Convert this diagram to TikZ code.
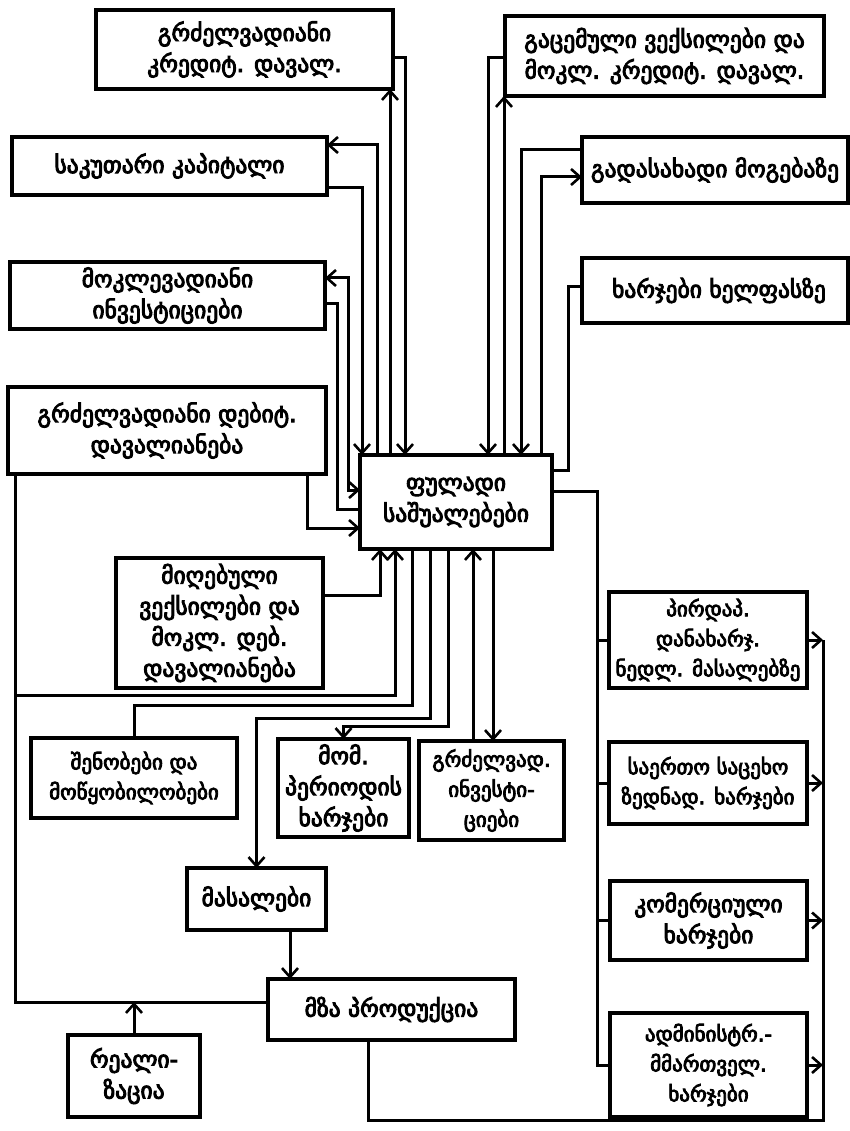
\documentclass[tikz,border=0pt]{standalone}
\usepackage{fontspec}
\setmainfont{DejaVu Sans}
\newfontfamily\geo[FakeBold=4]{DejaVu Sans}
\usetikzlibrary{arrows.meta}
\newcommand{\bx}[7][]{\node[box, minimum width={#5pt-#3pt}, minimum height={#6pt-#4pt}, #1] (#2) at ({(#3+#5)/2},{(#4+#6)/2}) {#7};}
\begin{document}
\begin{tikzpicture}[x=1pt,y=-1pt,
  box/.style={draw, line width=3.2pt, inner sep=0pt, outer sep=0pt, align=center,
    font=\geo\fontsize{23.5}{31}\selectfont},
  small/.style={font=\geo\fontsize{21}{30}\selectfont},
  ln/.style={line width=3pt},
  arr/.style={ln, -{Straight Barb[length=9pt,width=16pt,line width=2.6pt]}},
  arr2/.style={ln, {Straight Barb[length=9pt,width=16pt,line width=2.6pt]}-{Straight Barb[length=9pt,width=16pt,line width=2.6pt]}}]
\useasboundingbox (0,0) rectangle (850,1131);
\bx{b1}{96}{10}{393}{89}{გრძელვადიანი\\კრედიტ. დავალ.}
\bx{b2}{12}{137}{327}{195}{საკუთარი კაპიტალი}
\bx{b3}{10}{262}{325}{329}{მოკლევადიანი\\ინვესტიციები}
\bx{b4}{8}{387}{326}{474}{გრძელვადიანი დებიტ.\\დავალიანება}
\bx{c}{360}{455}{552}{549}{ფულადი\\საშუალებები}
\bx{b6}{116}{558}{323}{688}{მიღებული\\ვექსილები და\\მოკლ. დებ.\\დავალიანება}
\bx[small]{b7}{31}{738}{237}{818}{შენობები და\\მოწყობილობები}
\bx{b8}{278}{739}{409}{837}{მომ.\\პერიოდის\\ხარჯები}
\bx[small]{b9}{419}{741}{564}{840}{გრძელვად.\\ინვესტი-\\ციები}
\bx[small]{b10}{609}{592}{807}{688}{პირდაპ.\\დანახარჯ.\\ნედლ. მასალებზე}
\bx[small]{b11}{609}{742}{807}{824}{საერთო საცეხო\\ზედნად. ხარჯები}
\bx{b12}{610}{881}{807}{960}{კომერციული\\ხარჯები}
\bx[small]{b13}{610}{1013}{807}{1117}{ადმინისტრ.-\\მმართველ.\\ხარჯები}
\bx{b14}{187}{868}{326}{930}{მასალები}
\bx{b15}{268}{979}{515}{1040}{მზა პროდუქცია}
\bx{b16}{68}{1035}{200}{1117}{რეალი-\\ზაცია}
\bx{b17}{505}{16}{824}{96}{გაცემული ვექსილები და\\მოკლ. კრედიტ. დავალ.}
\bx{b18}{582}{137}{848}{203}{გადასახადი მოგებაზე}
\bx{b19}{582}{258}{848}{323}{\hspace*{8pt}ხარჯები ხელფასზე}
\coordinate (j1) at (15,695);
% top-left group
\draw[arr] (b2.east |- 0,188) -| (362,0 |- c.north);
\draw[arr] (377,0 |- c.north) |- (b2.east |- 0,145);
\draw[arr] (390,0 |- c.north) -- (390,0 |- b1.south);
\draw[arr] (b1.east |- 0,58) -| (405,0 |- c.north);
\draw[arr2] (c.west |- 0,490) -| (348,278) -- (b3.east |- 0,278);
\draw[ln] (b3.east |- 0,303) -| (337,509) -- (c.west |- 0,509);
\draw[arr] (307,0 |- b4.south) |- (c.west |- 0,528);
% top-right group
\draw[arr] (b17.west |- 0,58) -| (488,0 |- c.north);
\draw[arr] (504,0 |- c.north) -- (504,0 |- b17.south);
\draw[arr] (b18.west |- 0,150) -| (521,0 |- c.north);
\draw[arr] (541,0 |- c.north) |- (b18.west |- 0,177);
\draw[ln] (b19.west |- 0,287) -| (568,470) -- (c.east |- 0,470);
% right trunk
\draw[ln] (c.east |- 0,491) -| (b13.west -| 597,0) -- (b13.west);
\draw[ln] (b10.west -| 597,0) -- (b10.west);
\draw[ln] (b11.west -| 597,0) -- (b11.west);
\draw[ln] (b12.west -| 597,0) -- (b12.west);
\draw[arr] (b10.east) -- (b10.east -| 823,0);
\draw[arr] (b11.east) -- (b11.east -| 823,0);
\draw[arr] (b12.east) -- (b12.east -| 823,0);
\draw[arr] (b13.east) -- (b13.east -| 823,0);
\draw[ln] (368,0 |- b15.south) |- (823,1120) -- (b10.east -| 823,0);
% bottom group
\draw[arr] (b6.east |- 0,595) -| (380,0 |- c.south);
\draw[ln] (b15.west |- 0,1002) -| (15,0 |- b4.south);
\draw[arr] (j1) -| (395,0 |- c.south);
\draw[arr] (b16.north) -- (b16.north |- 0,1002);
\draw[ln] (412,0 |- c.south) |- (b7.north |- 0,705) -- (b7.north);
\draw[arr] (430,0 |- c.south) |- (b14.north |- 0,718) -- (b14.north);
\draw[arr] (448,0 |- c.south) |- (b8.north |- 0,726) -- (b8.north);
\draw[arr] (473,0 |- b9.north) -- (473,0 |- c.south);
\draw[arr] (493,0 |- c.south) -- (493,0 |- b9.north);
\draw[arr] (290,0 |- b14.south) -- (290,0 |- b15.north);
\end{tikzpicture}
\end{document}
